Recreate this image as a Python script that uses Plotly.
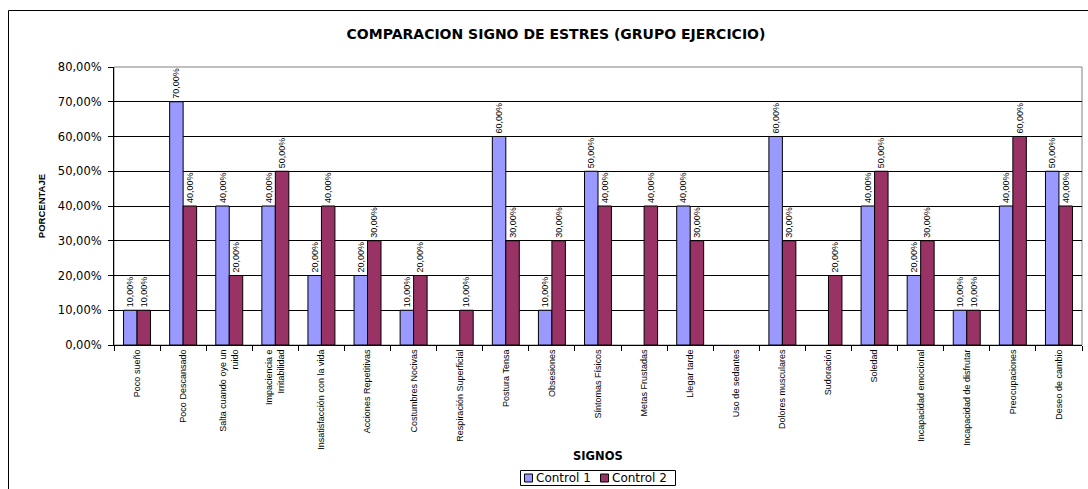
import plotly.graph_objects as go

# Stress signs compared between the two control measurements (exercise group)
signos = [
    "Poco sueño", "Poco Descansado", "Salta cuando oye un<br>ruido",
    "Impaciencia e<br>Irritabilidad", "Insatisfacción con la vida",
    "Acciones Repetitivas", "Costumbres Nocivas", "Respiración Superficial",
    "Postura Tensa", "Obsesiones", "Síntomas Físicos", "Metas Frustadas",
    "Llegar tarde", "Uso de sedantes", "Dolores musculares", "Sudoración",
    "Soledad", "Incapacidad emocional", "Incapacidad de disfrutar",
    "Preocupaciones", "Deseo de cambio",
]
control_1 = [0.10, 0.70, 0.40, 0.40, 0.20, 0.20, 0.10, 0.00, 0.60, 0.10, 0.50,
             0.00, 0.40, 0.00, 0.60, 0.00, 0.40, 0.20, 0.10, 0.40, 0.50]
control_2 = [0.10, 0.40, 0.20, 0.50, 0.40, 0.30, 0.20, 0.10, 0.30, 0.30, 0.40,
             0.40, 0.30, 0.00, 0.30, 0.20, 0.50, 0.30, 0.10, 0.60, 0.40]
y_ticks = [0.0, 0.1, 0.2, 0.3, 0.4, 0.5, 0.6, 0.7, 0.8]
series = [("Control 1", control_1, "#9999FF"), ("Control 2", control_2, "#993366")]

W, H = 1088, 489
L, R, T, B = 114, 6, 67, 144
PW, PH = W - L - R, H - T - B

SLIM = "Liberation Sans, Arial, sans-serif"        # vertical texts
WIDE = "DejaVu Sans, Verdana, Arial, sans-serif"   # horizontal texts


def px_x(x):
    return (x - L) / PW


def px_y(y):
    return (H - B - y) / PH


def bars(name, values, color):
    # zero values are not drawn at all (no bar, no label)
    ys = [v if v > 0 else None for v in values]
    return go.Bar(
        name=name, x=signos, y=ys, showlegend=False,
        marker=dict(color=color, line=dict(color="#000000", width=1)),
        texttemplate="%{y:.2%}", textposition="outside", textangle=-90,
        constraintext="none", cliponaxis=False,
        textfont=dict(family=SLIM, size=9, color="#000000"),
        hoverinfo="x+y",
    )


fig = go.Figure([bars(n, v, c) for n, v, c in series])

# boxed legend under the axis title
legend_shapes = [
    dict(type="rect", xref="paper", yref="paper",
         x0=px_x(520.5), x1=px_x(675.5), y0=px_y(485.5), y1=px_y(470.5),
         line=dict(color="#000000", width=1), fillcolor="#FFFFFF"),
]
legend_notes = []
for (name, _, color), sx in zip(series, [524, 600]):
    legend_shapes.append(dict(
        type="rect", xref="paper", yref="paper",
        x0=px_x(sx + 0.5), x1=px_x(sx + 8.5), y0=px_y(482), y1=px_y(474),
        line=dict(color="#000000", width=1), fillcolor=color))
    legend_notes.append(dict(
        text=name, xref="paper", yref="paper", x=px_x(sx + 10), y=px_y(478),
        xanchor="left", yanchor="middle", showarrow=False,
        font=dict(family=WIDE, size=12, color="#000000")))

fig.update_layout(
    width=W, height=H,
    margin=dict(l=L, r=R, t=T, b=B),
    paper_bgcolor="#FFFFFF", plot_bgcolor="#FFFFFF",
    separators=",.",
    barmode="group", bargap=0.415, bargroupgap=0,
    showlegend=False,
    title=dict(
        text="<b>COMPARACION SIGNO DE ESTRES (GRUPO EJERCICIO)</b>",
        x=556 / W, xanchor="center",
        y=1 - 34.5 / H, yanchor="middle", yref="container",
        font=dict(family=WIDE, size=14, color="#000000"),
    ),
    xaxis=dict(
        type="category", tickangle=-90, tickson="boundaries",
        ticks="outside", ticklen=5, tickcolor="#000000", tickwidth=1,
        showline=True, linecolor="#000000", linewidth=1,
        showgrid=False,
        tickfont=dict(family=SLIM, size=9, color="#000000"),
    ),
    yaxis=dict(
        range=[0, 0.8], tickvals=y_ticks, tickformat=".2%",
        ticks="outside", ticklen=5, tickcolor="#000000", tickwidth=1,
        ticklabelstandoff=4,
        showline=True, linecolor="#000000", linewidth=1,
        showgrid=True, gridcolor="#000000", gridwidth=1,
        zeroline=False,
        tickfont=dict(family=WIDE, size=11.5, color="#000000"),
        title=dict(text="<b>PORCENTAJE</b>", standoff=10,
                   font=dict(family=SLIM, size=9.5, color="#000000")),
    ),
    annotations=[
        dict(text="<b>SIGNOS</b>", xref="paper", yref="paper",
             x=0.5, y=px_y(456), xanchor="center", yanchor="middle",
             showarrow=False,
             font=dict(family=WIDE, size=11.5, color="#000000")),
    ] + legend_notes,
    shapes=[
        # plot area frame
        dict(type="rect", xref="paper", yref="paper", x0=0, x1=1, y0=0, y1=1,
             line=dict(color="#808080", width=1), layer="below"),
        # chart area frame
        dict(type="rect", xref="paper", yref="paper",
             x0=px_x(8.5), x1=px_x(1100), y0=px_y(500), y1=px_y(10.5),
             line=dict(color="#000000", width=1), layer="below"),
    ] + legend_shapes,
)

fig.write_html("out.html")
